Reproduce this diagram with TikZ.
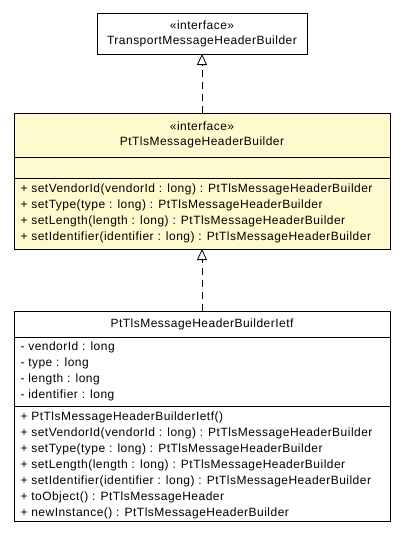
\documentclass[tikz,border=0pt]{standalone}
\usepackage{fontspec}
\setmainfont{Liberation Sans}[LetterSpace=4]
\usetikzlibrary{arrows.meta}
\definecolor{ifacefill}{RGB}{255,250,205}

\begin{document}
\begin{tikzpicture}[x=1pt,y=-1pt,>={Triangle[open,length=11pt,width=10pt]},
                    line width=1pt]
  \tikzstyle{every node}=[font=\fontsize{12}{14}\selectfont,inner sep=0pt]
  \tikzstyle{part}=[draw=black,rectangle,anchor=north west,outer sep=0pt,minimum width=376pt]
  \tikzstyle{member}=[anchor=west]
  \tikzstyle{realize}=[->,dash pattern=on 7pt off 5pt,line width=0.8pt]

  \useasboundingbox (0,0) rectangle (405,539);

  % top interface
  \node[part,minimum width=210pt,minimum height=41pt] (T) at (97,13) {};
  \node (Tst)   at (202,25) {«interface»};
  \node (Tname) at (202,41) {TransportMessageHeaderBuilder};

  % middle interface
  \node[part,fill=ifacefill,minimum height=44pt] (Ihead) at (14,113) {};
  \node[part,fill=ifacefill,minimum height=21pt] (Iattr) at (Ihead.south west) {};
  \node[part,fill=ifacefill,minimum height=71pt] (Iops)  at (Iattr.south west) {};
  \node (Ist)   at (202,126) {«interface»};
  \node (Iname) at (202,142) {PtTlsMessageHeaderBuilder};
  \node[member] (Iop1) at (20,189) {+ setVendorId(vendorId : long) : PtTlsMessageHeaderBuilder};
  \node[member] (Iop2) at (20,205) {+ setType(type : long) : PtTlsMessageHeaderBuilder};
  \node[member] (Iop3) at (20,221) {+ setLength(length : long) : PtTlsMessageHeaderBuilder};
  \node[member] (Iop4) at (20,237) {+ setIdentifier(identifier : long) : PtTlsMessageHeaderBuilder};

  % implementing class
  \node[part,minimum height=26pt]  (Chead) at (14,311) {};
  \node[part,minimum height=69pt]  (Cattr) at (Chead.south west) {};
  \node[part,minimum height=115pt] (Cops)  at (Cattr.south west) {};
  \node (Cname) at (202,324) {PtTlsMessageHeaderBuilderIetf};
  \node[member] (Ca1) at (20,347) {- vendorId : long};
  \node[member] (Ca2) at (20,363) {- type : long};
  \node[member] (Ca3) at (20,379) {- length : long};
  \node[member] (Ca4) at (20,395) {- identifier : long};
  \node[member] (Cop1) at (20,417) {+ PtTlsMessageHeaderBuilderIetf()};
  \node[member] (Cop2) at (20,433) {+ setVendorId(vendorId : long) : PtTlsMessageHeaderBuilder};
  \node[member] (Cop3) at (20,449) {+ setType(type : long) : PtTlsMessageHeaderBuilder};
  \node[member] (Cop4) at (20,465) {+ setLength(length : long) : PtTlsMessageHeaderBuilder};
  \node[member] (Cop5) at (20,481) {+ setIdentifier(identifier : long) : PtTlsMessageHeaderBuilder};
  \node[member] (Cop6) at (20,497) {+ toObject() : PtTlsMessageHeader};
  \node[member] (Cop7) at (20,513) {+ newInstance() : PtTlsMessageHeaderBuilder};

  \draw[realize] (Ihead.north) -- (T.south);
  \draw[realize] (Chead.north) -- (Iops.south);
\end{tikzpicture}
\end{document}
